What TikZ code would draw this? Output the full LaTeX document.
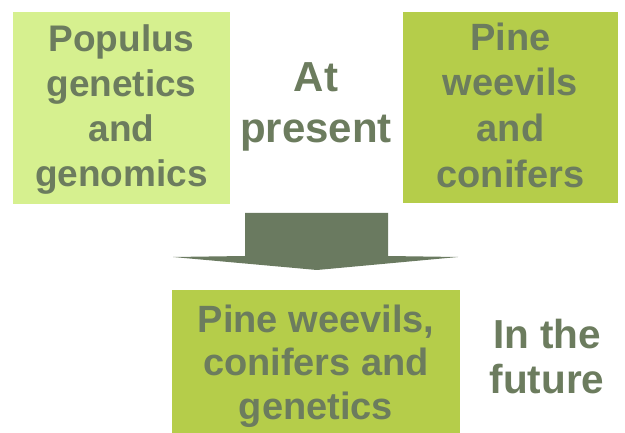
\documentclass[tikz,border=0pt]{standalone}
\usepackage{fontspec}
\setmainfont{Liberation Sans}
\definecolor{boxlight}{RGB}{214,240,143}
\definecolor{boxdark}{RGB}{181,205,74}
\definecolor{txt}{RGB}{108,124,94}
\definecolor{arrowc}{RGB}{106,122,96}
\begin{document}
\begin{tikzpicture}[x=1pt,y=-1pt,
  box/.style={inner sep=0pt, outer sep=0pt},
  lbl/.style={text=txt, align=center, inner sep=0pt, font=\bfseries}]
\useasboundingbox (0,0) rectangle (625,433);
\fill[white] (0,0) rectangle (625,433);
% boxes
\fill[boxlight] (13,12) rectangle (230,204);
\node[box, minimum width=217pt, minimum height=192pt] (left) at (121.5,108) {};
\fill[boxdark] (403,12) rectangle (618,203);
\node[box, minimum width=215pt, minimum height=191pt] (right) at (510.5,107.5) {};
\fill[boxdark] (172,290) rectangle (460,433);
\node[box, minimum width=288pt, minimum height=143pt] (bottom) at (316,361.5) {};
% arrow
\fill[arrowc] (245,213) -- (388,213) -- (388,256) -- (458,257) -- (317,270) -- (173,257) -- (245,256) -- cycle;
% texts (base anchor = baseline of last line)
\node[lbl, anchor=base, font=\fontsize{37}{45}\selectfont\bfseries] (ltext) at (121.5,187) {Populus\\genetics\\and\\genomics};
\node[lbl, anchor=base, font=\fontsize{38}{46}\selectfont\bfseries] (rtext) at (510.5,188) {Pine\\weevils\\and\\conifers};
\node[lbl, anchor=base, font=\fontsize{42}{51}\selectfont\bfseries] (now) at (316,143) {At\\present};
\node[lbl, anchor=base, font=\fontsize{38}{44}\selectfont\bfseries] (btext) at (316,420) {Pine weevils,\\conifers and\\genetics};
\node[lbl, anchor=base, font=\fontsize{40.5}{45}\selectfont\bfseries] (future) at (547,393) {In the\\future};
\end{tikzpicture}
\end{document}
